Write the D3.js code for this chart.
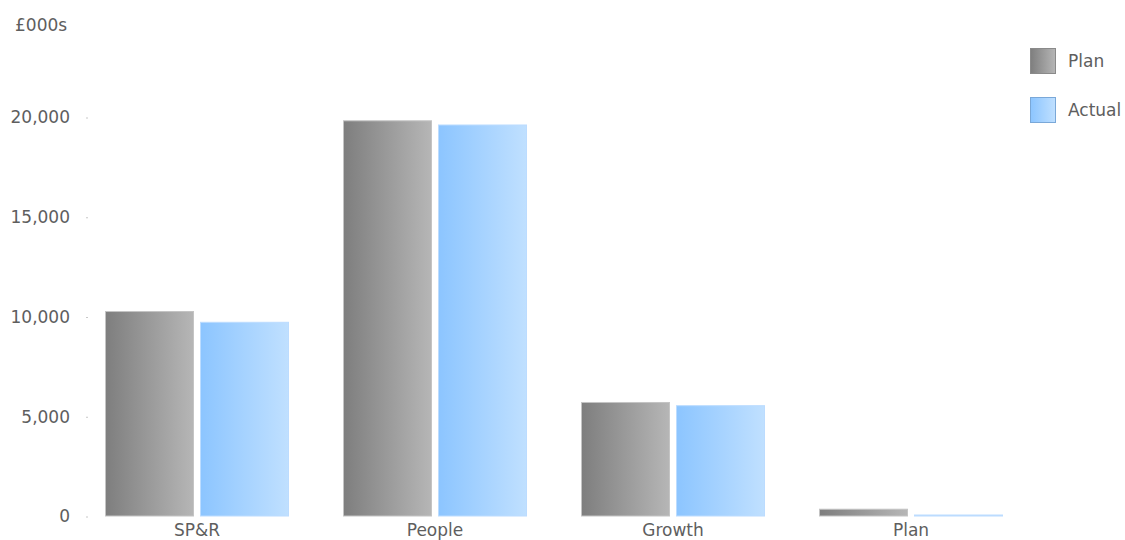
<!DOCTYPE html>
<html>
<head>
<meta charset="utf-8">
<script src="https://cdn.jsdelivr.net/npm/d3@7/dist/d3.min.js"></script>
<style>
  html, body { margin: 0; padding: 0; background: #fff; }
  svg { display: block; font-family: "DejaVu Sans", sans-serif; }
</style>
</head>
<body>
<svg id="chart" width="1125" height="540"></svg>
<script>
// Spend by area, £000s
const categories = ["SP&R", "People", "Growth", "Plan"];
const seriesNames = ["Plan", "Actual"];
const planValues = [10300, 19860, 5740, 390];
const actualValues = [9760, 19650, 5580, 100];
const yTicks = [0, 5000, 10000, 15000, 20000];
const unitLabel = "£000s";

const svg = d3.select("#chart");
const textColor = "#5e5e5e";
const fontSize = 17;

// Horizontal gradients for each series
const defs = svg.append("defs");
const gradients = {
  Plan: { id: "grad-plan", from: "#7e7e7e", to: "#b6b6b6", stroke: "#c4c4c4", legendStroke: "#8a8a8a" },
  Actual: { id: "grad-actual", from: "#8cc5ff", to: "#c0e0ff", stroke: "#bcdcff", legendStroke: "#7aa8d8" }
};
Object.values(gradients).forEach(g => {
  const lg = defs.append("linearGradient")
    .attr("id", g.id).attr("x1", "0%").attr("x2", "100%").attr("y1", "0%").attr("y2", "0%");
  lg.append("stop").attr("offset", "0%").attr("stop-color", g.from);
  lg.append("stop").attr("offset", "100%").attr("stop-color", g.to);
});

// Scales
const y = d3.scaleLinear().domain([0, 20000]).range([516.5, 117.5]);
const x0 = d3.scaleBand().domain(categories).range([78, 1030]).paddingInner(0).paddingOuter(0);
const x1 = d3.scaleBand().domain(seriesNames).range([27, 211]).paddingInner(0.0632).paddingOuter(0);

const rows = categories.map((c, i) => ({
  category: c,
  values: [
    { series: "Plan", value: planValues[i] },
    { series: "Actual", value: actualValues[i] }
  ]
}));

// Y axis: small tick dots and labels
const yAxis = d3.axisLeft(y)
  .tickValues(yTicks)
  .tickSize(2)
  .tickPadding(16)
  .tickFormat(d3.format(","));
const yG = svg.append("g").attr("transform", "translate(88,0)").call(yAxis);
yG.select(".domain").remove();
yG.selectAll(".tick line").attr("stroke", "#c8c8c8");
yG.selectAll(".tick text")
  .attr("fill", textColor)
  .style("font-size", fontSize + "px")
  .style("font-family", "DejaVu Sans, sans-serif");

// Unit label
svg.append("text")
  .attr("x", 15).attr("y", 31)
  .attr("fill", textColor)
  .style("font-size", fontSize + "px")
  .text(unitLabel);

// Bars
const groups = svg.append("g").selectAll("g.group")
  .data(rows).join("g")
  .attr("class", "group")
  .attr("transform", d => `translate(${x0(d.category)},0)`);

groups.selectAll("rect")
  .data(d => d.values).join("rect")
  .attr("x", d => x1(d.series) + 0.5)
  .attr("width", x1.bandwidth() - 1)
  .attr("y", d => y(d.value) + 0.5)
  .attr("height", d => Math.max(1, y(0) - y(d.value) - 1))
  .attr("fill", d => `url(#${gradients[d.series].id})`)
  .attr("stroke", d => gradients[d.series].stroke)
  .attr("stroke-width", 1);

// X axis category labels
const xAxis = d3.axisBottom(x0).tickSize(0).tickPadding(7);
const xG = svg.append("g").attr("transform", `translate(0,${y(0)})`).call(xAxis);
xG.select(".domain").remove();
xG.selectAll(".tick text")
  .attr("fill", textColor)
  .style("font-size", fontSize + "px")
  .style("font-family", "DejaVu Sans, sans-serif");

// Legend
const legend = svg.append("g").selectAll("g.legend")
  .data(seriesNames).join("g")
  .attr("class", "legend")
  .attr("transform", (d, i) => `translate(1030,${48 + i * 49})`);
legend.append("rect")
  .attr("x", 0.5).attr("y", 0.5)
  .attr("width", 25).attr("height", 25)
  .attr("fill", d => `url(#${gradients[d].id})`)
  .attr("stroke", d => gradients[d].legendStroke);
legend.append("text")
  .attr("x", 38).attr("y", 13)
  .attr("dy", "0.35em")
  .attr("fill", textColor)
  .style("font-size", fontSize + "px")
  .text(d => d);
</script>
</body>
</html>
